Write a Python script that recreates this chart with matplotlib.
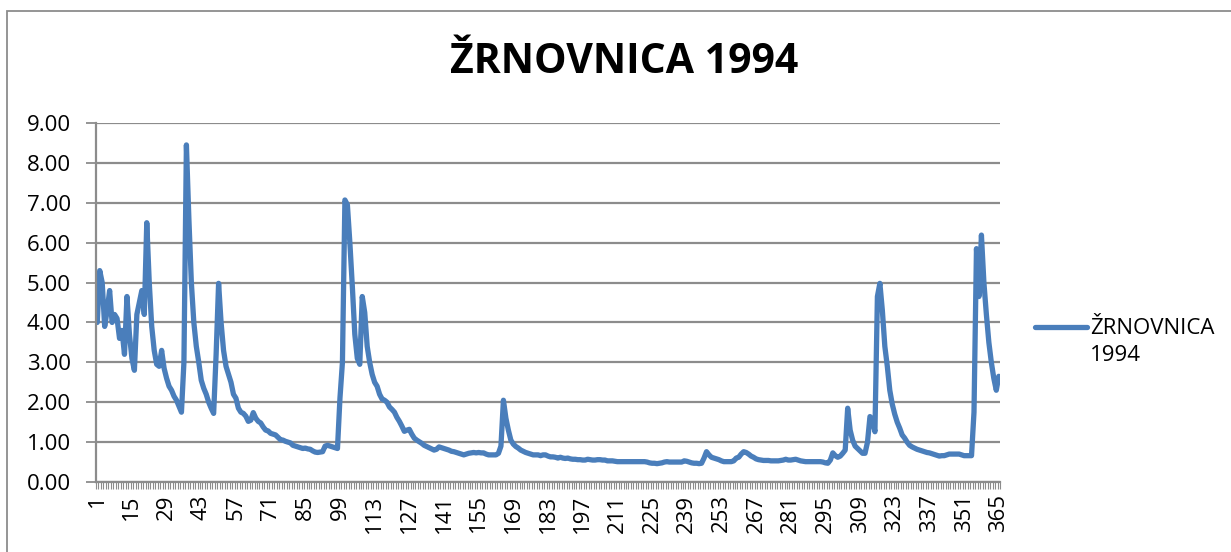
import matplotlib
matplotlib.use("Agg")
import matplotlib.pyplot as plt
from matplotlib.lines import Line2D
from matplotlib.patches import Rectangle

title = "ŽRNOVNICA 1994"
series_label = "ŽRNOVNICA\n1994"
days = list(range(1, 366))
flow = [
    4.0, 5.3, 5.0, 3.9, 4.3, 4.8, 4.0, 4.2, 4.1, 3.6,
    3.8, 3.2, 4.65, 3.7, 3.1, 2.8, 4.2, 4.5, 4.8, 4.2,
    6.5, 5.0, 3.9, 3.3, 2.95, 2.9, 3.3, 2.85, 2.6, 2.4,
    2.3, 2.15, 2.05, 1.9, 1.75, 3.0, 8.45, 6.6, 5.0, 4.0,
    3.4, 3.0, 2.55, 2.35, 2.2, 2.0, 1.85, 1.72, 3.2, 4.98,
    4.0, 3.3, 2.9, 2.7, 2.5, 2.2, 2.1, 1.85, 1.75, 1.72,
    1.65, 1.52, 1.55, 1.74, 1.6, 1.52, 1.48, 1.38, 1.3, 1.28,
    1.22, 1.2, 1.18, 1.12, 1.06, 1.05, 1.02, 1.0, 0.98, 0.92,
    0.9, 0.88, 0.86, 0.84, 0.85, 0.83, 0.82, 0.78, 0.75, 0.74,
    0.75, 0.76, 0.9, 0.92, 0.9, 0.88, 0.86, 0.84, 2.1, 3.0,
    7.07, 6.95, 6.0, 4.9, 3.7, 3.1, 2.95, 4.65, 4.25, 3.4,
    3.0, 2.7, 2.5, 2.4, 2.2, 2.08, 2.05, 2.0, 1.88, 1.82,
    1.75, 1.62, 1.52, 1.4, 1.27, 1.3, 1.32, 1.2, 1.1, 1.05,
    1.01, 0.97, 0.92, 0.89, 0.86, 0.83, 0.8, 0.82, 0.88, 0.86,
    0.84, 0.82, 0.8, 0.77, 0.76, 0.74, 0.72, 0.7, 0.68, 0.7,
    0.72, 0.73, 0.74, 0.73, 0.74, 0.73, 0.73, 0.7, 0.68, 0.68,
    0.68, 0.68, 0.72, 0.9, 2.05, 1.6, 1.3, 1.05, 0.95, 0.89,
    0.85, 0.8, 0.77, 0.74, 0.72, 0.7, 0.68, 0.68, 0.68, 0.66,
    0.68, 0.68, 0.65, 0.63, 0.63, 0.62, 0.6, 0.62, 0.6, 0.59,
    0.6, 0.58, 0.57, 0.57, 0.56, 0.56, 0.55, 0.55, 0.57, 0.56,
    0.55, 0.55, 0.56, 0.56, 0.55, 0.55, 0.53, 0.53, 0.53, 0.52,
    0.51, 0.51, 0.51, 0.51, 0.51, 0.51, 0.51, 0.51, 0.51, 0.51,
    0.51, 0.51, 0.5, 0.48, 0.47, 0.47, 0.46, 0.47, 0.48, 0.5,
    0.51, 0.5, 0.5, 0.5, 0.5, 0.5, 0.5, 0.53, 0.52, 0.5,
    0.48, 0.47, 0.47, 0.46, 0.47, 0.6, 0.76, 0.68, 0.62, 0.6,
    0.58, 0.56, 0.53, 0.51, 0.51, 0.51, 0.51, 0.53, 0.6, 0.62,
    0.7, 0.76, 0.74, 0.7, 0.65, 0.62, 0.58, 0.56, 0.55, 0.54,
    0.54, 0.54, 0.53, 0.53, 0.53, 0.53, 0.54, 0.55, 0.57, 0.55,
    0.55, 0.56, 0.57, 0.55, 0.53, 0.52, 0.51, 0.51, 0.51, 0.51,
    0.51, 0.51, 0.51, 0.5, 0.48, 0.47, 0.55, 0.73, 0.66, 0.62,
    0.65, 0.72, 0.8, 1.85, 1.3, 1.05, 0.9, 0.84, 0.78, 0.72,
    0.72, 1.0, 1.64, 1.55, 1.26, 4.65, 4.98, 4.3, 3.4, 2.9,
    2.3, 1.95, 1.7, 1.5, 1.35, 1.18, 1.1, 1.0, 0.92, 0.88,
    0.85, 0.82, 0.8, 0.78, 0.76, 0.74, 0.73, 0.71, 0.69, 0.67,
    0.65, 0.66, 0.66, 0.68, 0.7, 0.7, 0.7, 0.7, 0.7, 0.68,
    0.66, 0.66, 0.66, 0.66, 1.75, 5.85, 4.65, 6.19, 5.0, 4.2,
    3.5, 3.0, 2.6, 2.3, 2.65,
]
assert len(flow) == len(days)
y_ticks = [0, 1, 2, 3, 4, 5, 6, 7, 8, 9]
x_tick_days = list(range(1, 366, 14))

plt.rcParams['font.family'] = ['Open Sans', 'DejaVu Sans']

W, H = 1231, 552
fig = plt.figure(figsize=(W / 100, H / 100), dpi=100)
fig.patch.set_facecolor('white')

# chart area border
fig.patches.append(Rectangle((7 / W, -0.1), 1.2, 1 - 11 / H + 0.1,
                             transform=fig.transFigure, fill=False,
                             edgecolor='#8c8c8c', linewidth=1.3))

ax = fig.add_axes([96 / W, 1 - 482 / H, (1000 - 96) / W, (482 - 123) / H])
grid_c = '#8c8c8c'
line_c = '#4a7ebb'
fs = 16

ax.plot(days, flow, color=line_c, linewidth=3.8, solid_joinstyle='round',
        solid_capstyle='round')

ax.set_xlim(0.5, 365.5)
ax.set_ylim(0, 9)
ax.set_yticks(y_ticks)
ax.set_yticklabels([f"{v:.2f}" for v in y_ticks], fontsize=fs)
ax.yaxis.grid(True, color=grid_c, linewidth=1.6)
ax.set_axisbelow(True)

ax.set_xticks(x_tick_days)
ax.set_xticklabels([str(d) for d in x_tick_days], rotation=90, fontsize=fs)
ax.set_xticks([d + 0.5 for d in range(0, 366)], minor=True)
ax.tick_params(axis='x', which='major', length=0, pad=9)
ax.tick_params(axis='x', which='minor', length=5, width=0.8, color=grid_c, direction='out')
ax.tick_params(axis='y', length=7, width=1.3, color=grid_c, pad=11)

for s in ['top', 'right']:
    ax.spines[s].set_visible(False)
for s in ['left', 'bottom']:
    ax.spines[s].set_color(grid_c)
    ax.spines[s].set_linewidth(1.6)

fig.text(624 / W, 1 - 62 / H, title, ha='center', va='center',
         fontsize=29.5, fontweight='bold')

# legend
fig.lines.append(Line2D([1035 / W, 1087 / W], [1 - 327 / H, 1 - 327 / H],
                        transform=fig.transFigure, color=line_c, linewidth=3.8,
                        solid_capstyle='round'))
fig.text(1090 / W, 1 - 318 / H, series_label, ha='left', va='top',
         fontsize=fs, linespacing=1.4, transform=fig.transFigure)

fig.savefig('out.png', dpi=100, facecolor='white')
